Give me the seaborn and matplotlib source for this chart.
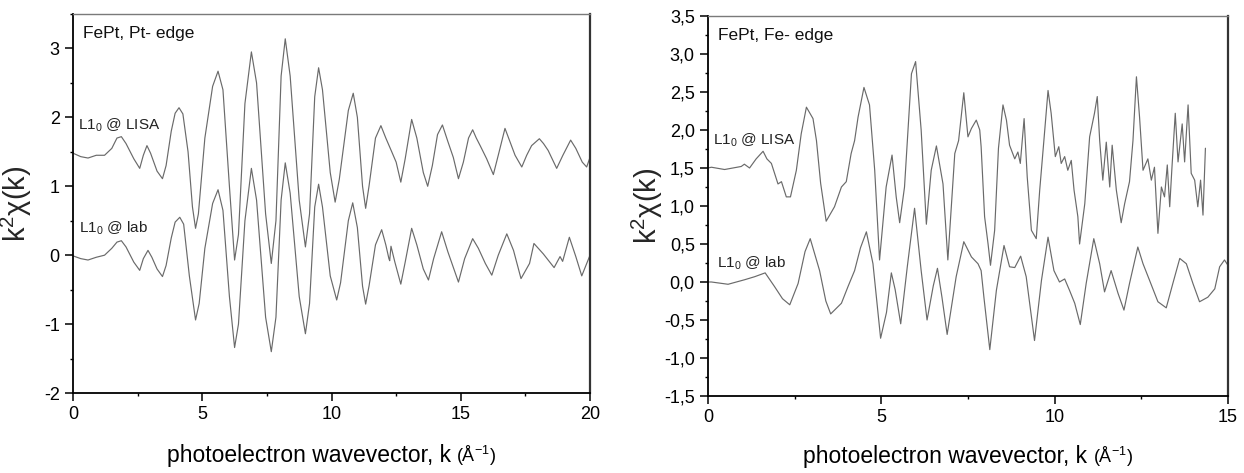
import numpy as np
import pandas as pd
import matplotlib
matplotlib.use("Agg")
import matplotlib.pyplot as plt
import seaborn as sns
from matplotlib.ticker import MultipleLocator, FuncFormatter
from matplotlib.offsetbox import TextArea, HPacker, AnchoredOffsetbox

# ---------------- data ----------------
pt_lisa_k = [0.00, 0.30, 0.58, 0.90, 1.22, 1.50, 1.70, 1.87, 2.05, 2.35, 2.58, 2.72, 2.86, 3.00, 3.25, 3.46,
             3.60, 3.80, 3.95, 4.10, 4.25, 4.45, 4.62, 4.74, 4.85, 5.10, 5.40, 5.61, 5.80, 6.05, 6.25, 6.40,
             6.65, 6.90, 7.10, 7.45, 7.67, 7.85, 8.05, 8.21, 8.40, 8.75, 8.99, 9.15, 9.35, 9.50, 9.65, 9.95,
             10.14, 10.30, 10.65, 10.84, 11.00, 11.20, 11.32, 11.45, 11.70, 11.91, 12.10, 12.33, 12.50, 12.68,
             12.85, 13.10, 13.30, 13.55, 13.72, 13.90, 14.10, 14.29, 14.50, 14.71, 14.91, 15.10, 15.30, 15.46,
             15.60, 15.75, 16.00, 16.26, 16.45, 16.71, 16.90, 17.10, 17.36, 17.55, 17.74, 18.04, 18.20, 18.38,
             18.71, 18.95, 19.25, 19.45, 19.70, 19.87, 20.00]
pt_lisa_chi = [1.48, 1.43, 1.41, 1.45, 1.45, 1.55, 1.70, 1.72, 1.62, 1.40, 1.26, 1.45, 1.59, 1.48, 1.22, 1.11,
               1.30, 1.80, 2.06, 2.14, 2.05, 1.50, 0.70, 0.39, 0.60, 1.70, 2.45, 2.67, 2.40, 1.00, -0.07, 0.30,
               2.20, 2.95, 2.50, 0.60, -0.12, 0.50, 2.60, 3.14, 2.60, 0.80, 0.12, 0.60, 2.30, 2.72, 2.40, 1.20,
               0.77, 1.10, 2.10, 2.35, 2.00, 1.00, 0.68, 1.00, 1.70, 1.88, 1.70, 1.50, 1.35, 1.06,
               1.40, 1.97, 1.70, 1.20, 1.00, 1.30, 1.75, 1.89, 1.65, 1.42, 1.11, 1.35, 1.70, 1.82,
               1.70, 1.59, 1.40, 1.17, 1.45, 1.84, 1.65, 1.45, 1.28, 1.45, 1.59, 1.69, 1.62, 1.52,
               1.26, 1.45, 1.67, 1.55, 1.35, 1.28, 1.42]

pt_lab_k = [0.00, 0.30, 0.58, 0.90, 1.22, 1.50, 1.70, 1.87, 2.05, 2.35, 2.58, 2.72, 2.90, 3.05, 3.25, 3.46,
            3.60, 3.80, 3.95, 4.13, 4.28, 4.50, 4.74, 4.88, 5.10, 5.40, 5.61, 5.80, 6.05, 6.25, 6.40, 6.65,
            6.90, 7.10, 7.45, 7.67, 7.85, 8.05, 8.21, 8.40, 8.75, 8.99, 9.15, 9.35, 9.50, 9.65, 9.95, 10.20,
            10.35, 10.65, 10.82, 11.00, 11.20, 11.32, 11.45, 11.70, 11.94, 12.10, 12.22, 12.25, 12.30, 12.45,
            12.68, 12.85, 13.10, 13.30, 13.55, 13.75, 13.95, 14.26, 14.50, 14.91, 15.15, 15.46, 15.68, 15.95,
            16.20, 16.45, 16.78, 17.04, 17.33, 17.66, 17.83, 18.19, 18.61, 18.84, 18.94, 19.20, 19.45, 19.68,
            20.00]
pt_lab_chi = [-0.01, -0.05, -0.07, -0.03, 0.00, 0.10, 0.19, 0.21, 0.12, -0.10, -0.22, -0.05, 0.07, -0.03, -0.20, -0.31,
              -0.15, 0.25, 0.48, 0.55, 0.45, -0.30, -0.94, -0.70, 0.10, 0.75, 0.95, 0.65, -0.60, -1.34, -1.00, 0.50,
              1.26, 0.80, -0.90, -1.40, -0.90, 0.80, 1.34, 0.90, -0.60, -1.14, -0.70, 0.70, 1.03, 0.70, -0.30, -0.65,
              -0.40, 0.50, 0.76, 0.40, -0.45, -0.71, -0.45, 0.15, 0.37, 0.15, -0.05, -0.08, 0.13, -0.10,
              -0.42, -0.10, 0.39, 0.15, -0.20, -0.36, -0.05, 0.34, 0.05, -0.39, -0.05, 0.24, 0.10, -0.12,
              -0.29, 0.00, 0.31, 0.07, -0.34, -0.12, 0.17, 0.02, -0.18, -0.02, -0.09, 0.26, -0.02, -0.30,
              0.00]

fe_lisa_k = [0.00, 0.10, 0.48, 0.96, 1.05, 1.20, 1.39, 1.59, 1.70, 1.83, 2.02, 2.12, 2.26, 2.38, 2.55, 2.69,
             2.84, 3.03, 3.13, 3.25, 3.41, 3.65, 3.85, 3.99, 4.13, 4.23, 4.33, 4.50, 4.66, 4.81, 4.95, 5.14,
             5.31, 5.43, 5.53, 5.67, 5.87, 5.99, 6.15, 6.30, 6.44, 6.59, 6.78, 6.92, 7.12, 7.23, 7.38, 7.50,
             7.60, 7.74, 7.84, 7.88, 7.98, 8.08, 8.15, 8.27, 8.38, 8.51, 8.61, 8.70, 8.85, 8.94, 9.01, 9.12,
             9.21, 9.33, 9.47, 9.57, 9.69, 9.81, 9.90, 10.02, 10.12, 10.19, 10.29, 10.38, 10.48, 10.56, 10.67,
             10.72, 10.87, 11.01, 11.15, 11.23, 11.30, 11.39, 11.49, 11.59, 11.66, 11.78, 11.92, 12.02, 12.16,
             12.26, 12.36, 12.45, 12.55, 12.69, 12.79, 12.88, 12.98, 13.08, 13.17, 13.25, 13.32, 13.38, 13.48,
             13.56, 13.68, 13.75, 13.85, 13.94, 14.04, 14.13, 14.21, 14.28, 14.35]
fe_lisa_chi = [1.50, 1.51, 1.48, 1.52, 1.55, 1.50, 1.62, 1.72, 1.62, 1.56, 1.29, 1.32, 1.12, 1.12, 1.47, 1.95,
               2.30, 2.15, 1.86, 1.30, 0.80, 0.99, 1.25, 1.32, 1.69, 1.86, 2.17, 2.56, 2.33, 1.47, 0.29, 1.25,
               1.67, 1.12, 0.78, 1.25, 2.74, 2.90, 2.00, 0.76, 1.47, 1.79, 1.29, 0.29, 1.69, 1.86, 2.49, 1.91,
               2.02, 2.13, 2.00, 1.78, 0.86, 0.50, 0.22, 0.68, 1.76, 2.33, 2.13, 1.80, 1.62, 1.71, 1.56, 2.15,
               1.38, 0.68, 0.57, 1.21, 1.86, 2.52, 2.22, 1.65, 1.78, 1.56, 1.65, 1.47, 1.60, 1.21, 0.86,
               0.50, 1.03, 1.91, 2.22, 2.44, 1.86, 1.34, 1.84, 1.25, 1.80, 1.21, 0.78, 1.03, 1.32,
               1.86, 2.70, 2.17, 1.47, 1.62, 1.34, 1.51, 0.64, 1.25, 1.12, 1.54, 0.99, 1.47, 2.22,
               1.58, 2.08, 1.58, 2.33, 1.43, 1.34, 0.99, 1.34, 0.88, 1.76]

fe_lab_k = [0.00, 0.10, 0.58, 1.06, 1.35, 1.65, 1.92, 2.15, 2.36, 2.60, 2.80, 2.95, 3.22, 3.40, 3.54, 3.85,
            4.04, 4.23, 4.40, 4.57, 4.76, 4.98, 5.15, 5.29, 5.40, 5.56, 5.75, 5.96, 6.15, 6.32, 6.50, 6.62,
            6.75, 6.90, 7.16, 7.38, 7.60, 7.79, 7.88, 7.96, 8.13, 8.32, 8.54, 8.70, 8.85, 9.02, 9.18, 9.28,
            9.42, 9.62, 9.81, 9.98, 10.14, 10.29, 10.43, 10.58, 10.74, 10.91, 11.13, 11.30, 11.44, 11.63,
            11.83, 12.00, 12.16, 12.40, 12.55, 12.74, 12.98, 13.22, 13.41, 13.61, 13.80, 13.99, 14.18, 14.42,
            14.62, 14.76, 14.90, 15.00]
fe_lab_chi = [0.00, 0.00, -0.03, 0.03, 0.07, 0.12, -0.06, -0.22, -0.30, -0.02, 0.40, 0.57, 0.15, -0.25, -0.42, -0.28,
              -0.06, 0.15, 0.45, 0.66, 0.24, -0.74, -0.40, 0.12, -0.10, -0.55, 0.20, 0.97, 0.15, -0.50, -0.05, 0.18,
              -0.20, -0.69, 0.07, 0.53, 0.33, 0.24, 0.15, -0.20, -0.89, -0.11, 0.48, 0.20, 0.19, 0.34, 0.07, -0.28,
              -0.77, 0.02, 0.59, 0.15, 0.00, 0.04, -0.11, -0.28, -0.56, -0.02, 0.57, 0.24, -0.13, 0.15,
              -0.15, -0.37, -0.02, 0.46, 0.24, 0.02, -0.26, -0.34, -0.02, 0.31, 0.24, -0.02, -0.26, -0.20,
              -0.09, 0.20, 0.29, 0.22]

panel_titles = ["FePt, Pt- edge", "FePt, Fe- edge"]
series_names = ["L1$_0$ @ LISA", "L1$_0$ @ lab"]
x_main = "photoelectron wavevector, k"
x_unit = "(Å$^{-1}$)"
y_label = "$k^2$χ(k)"

# ---------------- style ----------------
sns.set_theme(style="ticks")
plt.rcParams["font.family"] = ["Liberation Sans", "DejaVu Sans"]
plt.rcParams["mathtext.default"] = "regular"
plt.rcParams["axes.unicode_minus"] = False

fig = plt.figure(figsize=(12.44, 4.73), dpi=100)
axL = fig.add_axes([0.0587, 0.1691, 0.4156, 0.8013])
axR = fig.add_axes([0.5691, 0.1628, 0.4180, 0.8034])

line_kw = dict(color="#6a6a6a", linewidth=0.85, estimator=None, sort=False, legend=False)

sns.lineplot(x=pt_lisa_k, y=pt_lisa_chi, ax=axL, **line_kw)
sns.lineplot(x=pt_lab_k, y=pt_lab_chi, ax=axL, **line_kw)
sns.lineplot(x=fe_lisa_k, y=fe_lisa_chi, ax=axR, **line_kw)
sns.lineplot(x=fe_lab_k, y=fe_lab_chi, ax=axR, **line_kw)

axL.set_xlim(0, 20)
axL.set_ylim(-2, 3.5)
axR.set_xlim(0, 15)
axR.set_ylim(-1.5, 3.5)

axL.xaxis.set_major_locator(MultipleLocator(5))
axL.xaxis.set_minor_locator(MultipleLocator(2.5))
axL.yaxis.set_major_locator(MultipleLocator(1))
axL.yaxis.set_minor_locator(MultipleLocator(0.5))
axL.yaxis.set_major_formatter(FuncFormatter(lambda v, _: f"{v:.0f}"))

axR.xaxis.set_major_locator(MultipleLocator(5))
axR.xaxis.set_minor_locator(MultipleLocator(2.5))
axR.yaxis.set_major_locator(MultipleLocator(0.5))
axR.yaxis.set_minor_locator(MultipleLocator(0.25))
axR.yaxis.set_major_formatter(FuncFormatter(lambda v, _: f"{v:.1f}".replace(".", ",")))

for ax in (axL, axR):
    ax.tick_params(which="major", direction="out", length=5.5, width=1.1, labelsize=13, colors="black", pad=4)
    ax.tick_params(which="minor", direction="out", length=2.5, width=1.0, colors="black")
    ax.tick_params(top=False, right=False, which="both")
    for s in ("left", "bottom"):
        ax.spines[s].set_color("black")
        ax.spines[s].set_linewidth(1.3)
    ax.spines["top"].set_color("#7a7a7a")
    ax.spines["top"].set_linewidth(1.0)
    ax.spines["right"].set_color("#333333")
    ax.spines["right"].set_linewidth(1.6)
    ax.set_xlabel("")
    ax.set_ylabel(y_label, fontsize=21)

axL.yaxis.set_label_coords(-0.075, 0.5)
axR.yaxis.set_label_coords(-0.082, 0.5)

# panel titles
for ax, t in zip((axL, axR), panel_titles):
    ax.annotate(t, xy=(0, 1), xycoords="axes fraction", xytext=(7.5, -17.5),
                textcoords="offset points", va="baseline", ha="left", fontsize=12.5, color="#111111")

# series labels
axL.text(0.2, 1.88, series_names[0], fontsize=11, va="center", ha="left", color="#222222")
axL.text(0.25, 0.39, series_names[1], fontsize=11, va="center", ha="left", color="#222222")
axR.text(0.15, 1.86, series_names[0], fontsize=11, va="center", ha="left", color="#222222")
axR.text(0.25, 0.25, series_names[1], fontsize=11, va="center", ha="left", color="#222222")

# x labels with mixed font sizes
for ax, yoff in ((axL, -0.135), (axR, -0.13)):
    pack = HPacker(children=[TextArea(x_main, textprops=dict(fontsize=16.5, color="black")),
                             TextArea(x_unit, textprops=dict(fontsize=13, color="black"))],
                   align="baseline", pad=0, sep=4)
    box = AnchoredOffsetbox(loc="upper center", child=pack, pad=0, borderpad=0, frameon=False,
                            bbox_to_anchor=(0.5, yoff), bbox_transform=ax.transAxes)
    ax.add_artist(box)

fig.savefig("out.png", dpi=100, facecolor="white")
